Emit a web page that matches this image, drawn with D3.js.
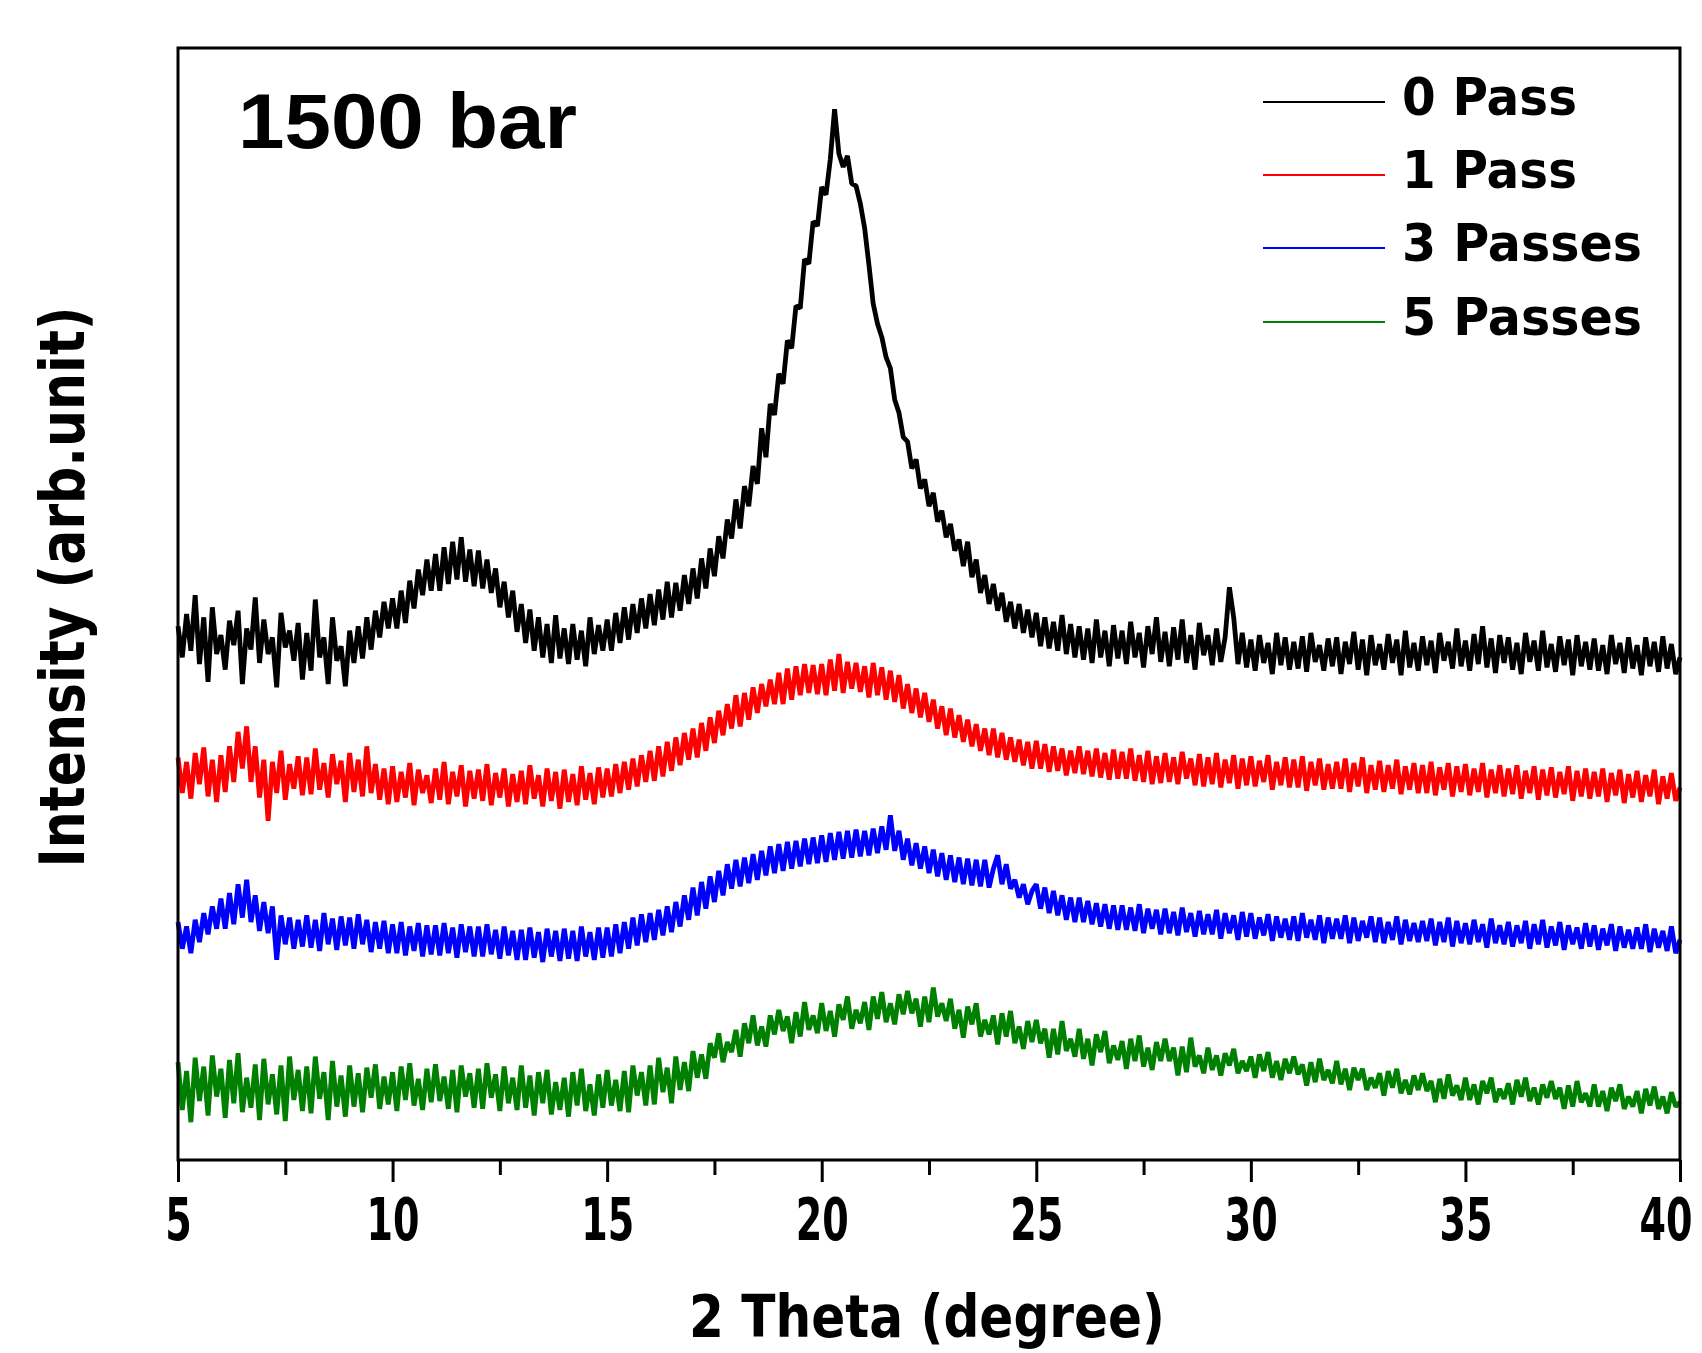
<!DOCTYPE html>
<html>
<head>
<meta charset="utf-8">
<script src="https://cdn.jsdelivr.net/npm/d3@7"></script>
<style>
  body { margin: 0; background: #fff; }
  .lbl { font-family: "Liberation Sans Narrow", "DejaVu Sans Condensed", "Liberation Sans", sans-serif; font-weight: bold; }
</style>
</head>
<body>
<div class="svg-container"></div>
<script>
// 2 Theta grid: 5 to 40 degrees, 0.1 step
const xStart = 5, xStep = 0.1;

const seriesNames = ["0 Pass", "1 Pass", "3 Passes", "5 Passes"];
const seriesColors = ["#000000", "#ff0000", "#0000ff", "#008000"];

const pass0 = [
  480,452,491,458,508,446,488,430,497,455,
  472,441,485,463,494,428,478,459,506,447,
  486,455,470,425,492,461,476,449,483,432,
  474,440,504,452,470,428,488,449,462,426,
  476,447,480,451,488,459,494,470,502,478,
  505,478,512,483,521,496,531,508,540,512,
  545,512,551,518,556,522,560,520,549,516,
  548,514,540,510,532,497,520,488,512,475,
  500,465,495,458,488,452,482,447,490,451,
  478,446,482,450,476,444,488,455,481,458,
  486,458,492,465,497,468,500,474,505,478,
  509,481,513,486,520,488,519,494,526,500,
  532,505,541,514,550,525,561,541,576,559,
  594,568,606,588,624,608,658,632,680,670,
  707,698,737,730,768,766,810,806,844,840,
  875,868,900,945,905,893,903,878,876,860,
  838,805,770,752,740,722,712,684,672,650,
  646,622,630,604,612,588,600,574,584,560,
  572,548,558,534,556,524,540,510,526,500,
  518,494,510,484,502,478,500,474,495,470,
  492,462,488,460,484,458,490,455,482,452,
  480,450,478,447,486,452,476,444,481,451,
  476,446,484,452,474,443,480,455,488,448,
  475,444,479,450,486,447,472,441,483,454,
  472,445,478,448,470,515,488,446,474,443,
  468,440,472,447,465,437,474,445,470,441,
  466,442,471,439,474,448,463,440,469,444,
  470,437,466,446,475,441,468,436,472,445,
  464,441,473,447,468,436,476,443,465,440,
  471,445,467,438,474,449,466,442,478,444,
  467,440,473,446,480,443,469,438,472,447,
  470,441,465,437,474,448,467,440,476,443,
  464,439,471,445,468,436,472,444,466,441,
  469,440,463,437,472,446,465,438,470,442,
  463,436,470,444,466,439,471,442,464,437,
  452
];

const pass1 = [
  362,330,358,325,366,338,371,327,360,322,
  364,331,372,340,385,352,390,340,372,326,
  360,305,358,330,368,324,356,334,363,328,
  362,329,370,333,357,326,365,338,359,322,
  366,331,360,327,372,330,356,324,352,320,
  354,322,349,326,357,319,351,330,346,321,
  352,324,358,320,349,327,355,318,350,325,
  351,323,356,319,348,326,352,318,347,322,
  350,320,355,325,346,318,352,323,349,316,
  351,322,347,319,354,324,348,320,353,326,
  352,327,356,330,358,333,361,336,364,340,
  368,341,372,345,376,350,380,355,384,360,
  388,362,393,368,398,375,404,382,410,388,
  418,390,420,396,425,402,428,408,432,410,
  438,410,442,414,444,418,446,420,445,419,
  446,418,450,422,455,420,448,424,447,421,
  444,416,447,418,443,414,440,412,436,406,
  428,402,424,398,420,394,414,388,408,382,
  406,380,400,376,396,372,392,368,388,364,
  388,362,384,360,380,358,378,355,376,352,
  377,352,374,349,372,350,370,346,368,348,
  372,347,368,345,370,344,366,342,369,343,
  367,343,370,341,364,340,368,338,363,339,
  366,340,362,338,367,343,361,337,365,336,
  362,338,366,335,360,339,364,334,361,337,
  363,336,359,340,364,333,358,337,362,335,
  360,335,363,332,358,337,361,333,356,334,
  358,334,361,331,357,336,362,330,355,333,
  359,331,355,334,360,329,354,333,357,330,
  355,330,358,328,353,333,357,327,354,331,
  356,328,352,331,357,326,351,330,355,327,
  352,329,355,325,350,330,354,324,351,328,
  353,326,349,329,354,323,350,327,352,325,
  349,327,352,322,348,328,351,321,347,326,
  350,322,346,327,351,320,345,325,348,323,
  335
];

const pass3 = [
  214,190,210,186,216,196,222,203,228,208,
  235,208,240,212,248,218,252,214,238,206,
  232,204,228,180,220,194,218,190,216,192,
  220,191,216,188,222,194,217,189,219,193,
  218,190,221,194,216,187,214,190,215,186,
  212,186,214,184,210,188,213,183,211,185,
  211,184,213,186,209,182,212,187,210,183,
  210,183,212,185,207,181,210,184,206,180,
  207,180,209,182,205,178,208,183,206,179,
  208,181,206,179,210,183,205,180,209,182,
  209,183,212,186,214,190,218,193,221,196,
  222,198,225,202,228,205,232,210,238,216,
  245,220,250,226,255,232,260,238,266,244,
  270,246,272,249,275,252,278,256,282,258,
  284,260,286,262,287,264,289,266,290,267,
  292,268,294,270,295,271,296,272,297,273,
  296,274,298,276,300,279,310,278,296,270,
  289,265,285,262,282,258,279,255,276,252,
  274,250,272,248,271,247,270,246,270,245,
  262,274,248,266,244,252,236,248,230,242,
  248,226,245,222,242,220,238,216,236,214,
  236,214,233,212,231,210,230,208,229,207,
  229,207,227,206,230,204,226,208,225,203,
  226,204,223,202,227,205,222,201,224,203,
  221,203,225,199,222,204,220,198,223,201,
  222,199,218,202,221,197,219,200,217,198,
  219,197,222,200,216,198,220,195,218,199,
  217,199,220,195,218,197,215,200,219,196,
  218,195,214,198,219,194,216,197,213,196,
  215,197,217,193,214,196,218,192,215,195,
  213,194,216,196,212,191,217,195,211,194,
  214,192,211,195,215,190,212,194,216,191,
  210,193,214,189,211,194,209,190,213,192,
  211,189,208,193,212,188,210,191,207,190,
  209,190,212,187,208,191,206,188,210,186,
  198
];

const pass5 = [
  88,45,80,34,92,53,84,40,94,57,
  82,38,90,51,96,43,74,47,86,36,
  91,50,77,41,85,35,93,54,81,44,
  84,42,93,55,79,36,89,48,76,39,
  85,48,78,43,83,56,86,46,75,50,
  79,44,84,54,87,49,73,45,82,52,
  86,53,75,46,81,43,85,57,78,47,
  82,46,87,56,77,44,84,51,74,45,
  85,47,76,40,79,51,81,41,70,45,
  74,39,79,49,82,44,68,40,77,47,
  81,49,72,44,80,43,85,58,79,49,
  85,50,92,61,83,51,93,63,88,62,
  98,74,95,73,105,92,114,88,106,97,
  117,93,123,105,130,103,120,102,130,113,
  135,116,129,105,133,111,142,117,130,114,
  141,116,134,111,140,126,147,118,135,123,
  142,117,147,127,151,124,141,122,149,131,
  152,132,145,120,147,124,155,129,141,125,
  145,118,135,110,138,122,141,111,126,113,
  130,104,132,111,134,105,120,100,125,106,
  126,105,118,92,118,95,125,98,109,93,
  118,91,109,85,113,97,116,87,103,90,
  107,82,109,89,112,84,101,81,106,89,
  109,89,101,76,102,79,110,84,94,78,
  101,81,94,76,96,85,100,78,89,80,
  93,74,95,80,97,74,89,72,91,78,
  93,77,86,67,88,70,91,72,81,69,
  89,68,82,63,83,72,82,63,74,65,
  78,58,80,65,82,60,72,59,76,63,
  78,62,71,52,73,55,77,58,67,54,
  74,54,68,50,71,60,74,52,64,55,
  69,50,72,57,74,53,65,50,68,56,
  71,55,65,46,67,48,71,52,60,48,
  68,48,62,44,65,53,68,46,57,48,
  62,42,64,49,66,46,57,42,61,48,
  52
];

const majorTicks = [5, 10, 15, 20, 25, 30, 35, 40];
const minorTicks = [7.5, 12.5, 17.5, 22.5, 27.5, 32.5, 37.5];

const w = 1702, h = 1353;
const padLeft = 178, padRight = 1680, padTop = 48, padBottom = 1160;

const svg = d3.select(".svg-container")
  .append("svg")
  .attr("width", w)
  .attr("height", h);

const xScale = d3.scaleLinear().domain([5, 40]).range([padLeft, padRight]);
const yScale = d3.scaleLinear().domain([0, 1000]).range([padBottom, padTop]);

const allSeries = [pass0, pass1, pass3, pass5];

const line = d3.line()
  .x((d, i) => xScale(xStart + i * xStep))
  .y(d => yScale(d));

// draw bottom series first so black sits on top
allSeries.slice().reverse().forEach((vals, k) => {
  const idx = allSeries.length - 1 - k;
  svg.append("path")
    .datum(vals)
    .attr("d", line)
    .attr("fill", "none")
    .attr("stroke", seriesColors[idx])
    .attr("stroke-width", 4.8)
    .attr("stroke-linejoin", "bevel");
});

// frame
svg.append("rect")
  .attr("x", padLeft).attr("y", padTop)
  .attr("width", padRight - padLeft).attr("height", padBottom - padTop)
  .attr("fill", "none").attr("stroke", "#000").attr("stroke-width", 3);

// x axis, major ticks
const xAxis = d3.axisBottom(xScale).tickValues(majorTicks).tickSize(22).tickFormat(d3.format("d"));
const gx = svg.append("g")
  .attr("transform", "translate(0," + padBottom + ")")
  .call(xAxis);
gx.select(".domain").remove();
gx.selectAll("line").attr("stroke", "#000").attr("stroke-width", 3);
gx.selectAll("text")
  .attr("class", "lbl")
  .attr("y", 80).attr("dy", null)
  .attr("fill", "#000")
  .attr("textLength", d => String(d).length * 26.5)
  .attr("lengthAdjust", "spacingAndGlyphs")
  .style("font-size", "58px");
// last label sits at the right edge: right-align it so it stays inside
gx.selectAll("text").filter(d => d === 40)
  .attr("text-anchor", "end")
  .attr("x", 12);

// minor ticks
const gm = svg.append("g")
  .attr("transform", "translate(0," + padBottom + ")")
  .call(d3.axisBottom(xScale).tickValues(minorTicks).tickSize(15).tickFormat(""));
gm.select(".domain").remove();
gm.selectAll("line").attr("stroke", "#000").attr("stroke-width", 3);

// axis titles
svg.append("text")
  .attr("class", "lbl")
  .attr("x", 927).attr("y", 1337)
  .attr("text-anchor", "middle")
  .attr("textLength", 476).attr("lengthAdjust", "spacingAndGlyphs")
  .style("font-size", "58px")
  .text("2 Theta (degree)");

svg.append("text")
  .attr("class", "lbl")
  .attr("transform", "translate(84,587) rotate(-90)")
  .attr("text-anchor", "middle")
  .attr("textLength", 561).attr("lengthAdjust", "spacingAndGlyphs")
  .style("font-size", "63px")
  .text("Intensity (arb.unit)");

// condition label
svg.append("text")
  .attr("x", 238).attr("y", 148)
  .attr("textLength", 339).attr("lengthAdjust", "spacingAndGlyphs")
  .style("font-family", "'Liberation Sans', Arial, sans-serif")
  .style("font-weight", "bold")
  .style("font-size", "78px")
  .text("1500 bar");

// legend
const legendY = [102, 175, 248, 322];
const legendW = [175, 175, 240, 240];
seriesNames.forEach((name, i) => {
  svg.append("line")
    .attr("x1", 1263).attr("x2", 1385)
    .attr("y1", legendY[i]).attr("y2", legendY[i])
    .attr("stroke", seriesColors[i]).attr("stroke-width", 2.2);
  svg.append("text")
    .attr("class", "lbl")
    .attr("x", 1402).attr("y", legendY[i] + 13)
    .attr("textLength", legendW[i]).attr("lengthAdjust", "spacingAndGlyphs")
    .style("font-size", "52px")
    .text(name);
});
</script>
</body>
</html>
